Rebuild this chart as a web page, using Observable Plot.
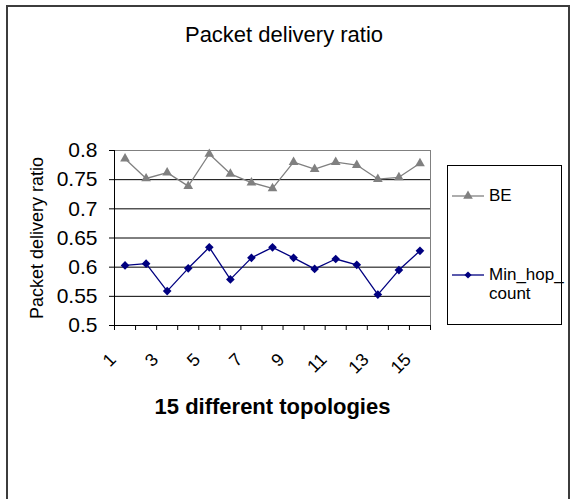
<!DOCTYPE html>
<html>
<head>
<meta charset="utf-8">
<script src="https://cdn.jsdelivr.net/npm/d3@7"></script>
<script src="https://cdn.jsdelivr.net/npm/@observablehq/plot@0.6"></script>
<style>
  html, body { margin: 0; padding: 0; background: #fff; width: 574px; height: 499px; overflow: hidden; }
  body { position: relative; font-family: "Liberation Sans", Arial, sans-serif; }
  #border { position: absolute; left: 6px; top: 5px; width: 560px; height: 600px; border: 2px solid #3c3c3c; }
  #title { position: absolute; left: 0; width: 568px; top: 24px; text-align: center; font-size: 22px; line-height: 22px; color: #000; }
  #chart { position: absolute; left: 0; top: 0; }
  #chart svg g[aria-label="x-axis label"] text { font-weight: bold; font-size: 22px; }
  #chart svg g[aria-label="y-axis label"] text { font-size: 18px; }
  #legend { position: absolute; left: 447px; top: 165px; width: 113px; height: 158px; border: 1px solid #000; background: #fff; }
  .item { position: absolute; left: 0; }
  .item svg { position: absolute; left: 4px; }
  .item span { position: absolute; left: 41px; font-size: 17px; line-height: 19px; white-space: nowrap; color: #000; }
</style>
</head>
<body>
<div id="border"></div>
<div id="title">Packet delivery ratio</div>
<div id="chart"></div>
<div id="legend"></div>
<script>
// ---- data ----
const topologies = [1, 2, 3, 4, 5, 6, 7, 8, 9, 10, 11, 12, 13, 14, 15];
const beValues = [0.786, 0.752, 0.762, 0.739, 0.794, 0.760, 0.745, 0.735, 0.780, 0.768, 0.780, 0.775, 0.751, 0.754, 0.778];
const minHopValues = [0.603, 0.606, 0.559, 0.598, 0.634, 0.579, 0.616, 0.634, 0.616, 0.597, 0.614, 0.604, 0.553, 0.595, 0.628];
const seriesNames = ["BE", "Min_hop_count"];
const seriesColors = ["#808080", "#000080"];
const yTicks = [0.5, 0.55, 0.6, 0.65, 0.7, 0.75, 0.8];
const xTickLabels = [1, 3, 5, 7, 9, 11, 13, 15];
const yTitle = "Packet delivery ratio";
const xTitle = "15 different topologies";

// ---- build table ----
const rows = [];
topologies.forEach((t, i) => {
  rows.push({topology: t, series: seriesNames[0], value: beValues[i]});
  rows.push({topology: t, series: seriesNames[1], value: minHopValues[i]});
});
const beRows = rows.filter(d => d.series === seriesNames[0]);
const mhRows = rows.filter(d => d.series === seriesNames[1]);
const boundaries = [topologies[0] - 0.5, ...topologies.map(t => t + 0.5)];
const gridTicks = yTicks.slice(1, -1);

const chart = Plot.plot({
  width: 574,
  height: 499,
  marginLeft: 114,
  marginRight: 144,
  marginTop: 150,
  marginBottom: 174,
  style: {fontFamily: '"Liberation Sans", Arial, sans-serif', background: "transparent", color: "#000", overflow: "visible"},
  x: {type: "linear", domain: [boundaries[0], boundaries[boundaries.length - 1]]},
  y: {domain: [yTicks[0], yTicks[yTicks.length - 1]]},
  marks: [
    Plot.frame({stroke: "#808080"}),
    Plot.gridY(gridTicks, {stroke: "#000", strokeOpacity: 1}),
    Plot.axisY(yTicks, {tickSize: 5, tickPadding: 12, fontSize: 21, tickFormat: d => String(d), label: yTitle, labelAnchor: "center", labelOffset: 84, labelArrow: "none"}),
    Plot.axisX(boundaries, {tickSize: 5, tickFormat: () => "", label: null}),
    Plot.axisX(xTickLabels, {tickSize: 0, tickPadding: 31, tickRotate: -45, fontSize: 18, dx: -12, tickFormat: d => String(d), label: xTitle, labelAnchor: "center", labelOffset: 88, labelArrow: "none"}),
    Plot.ruleY([yTicks[0]], {stroke: "#000"}),
    Plot.ruleX([boundaries[0]], {stroke: "#000"}),
    Plot.line(beRows, {x: "topology", y: "value", stroke: seriesColors[0], strokeWidth: 1.3}),
    Plot.line(mhRows, {x: "topology", y: "value", stroke: seriesColors[1], strokeWidth: 1.3}),
    Plot.dot(beRows, {x: "topology", y: "value", symbol: "triangle", r: 3.6, fill: seriesColors[0], stroke: "none"}),
    Plot.dot(mhRows, {x: "topology", y: "value", symbol: "diamond2", r: 3.9, fill: seriesColors[1], stroke: "none"})
  ]
});
document.getElementById("chart").appendChild(chart);

// ---- legend ----
const legend = document.getElementById("legend");
const legendItems = [
  {name: seriesNames[0], label: "BE", color: seriesColors[0], symbol: d3.symbolTriangle, size: 40, top: 20},
  {name: seriesNames[1], label: "Min_hop_<br>count", color: seriesColors[1], symbol: d3.symbolSquare, size: 26, rotate: 45, top: 99}
];
legendItems.forEach(it => {
  const div = document.createElement("div");
  div.className = "item";
  div.style.top = it.top + "px";
  const path = d3.symbol(it.symbol, it.size)();
  div.innerHTML = `<svg width="32" height="20" style="top:0px"><line x1="0" x2="32" y1="10" y2="10" stroke="${it.color}" stroke-width="1.3"/><path d="${path}" transform="translate(16,10) rotate(${it.rotate || 0})" fill="${it.color}"/></svg><span style="top:0px">${it.label}</span>`;
  legend.appendChild(div);
});
</script>
</body>
</html>
